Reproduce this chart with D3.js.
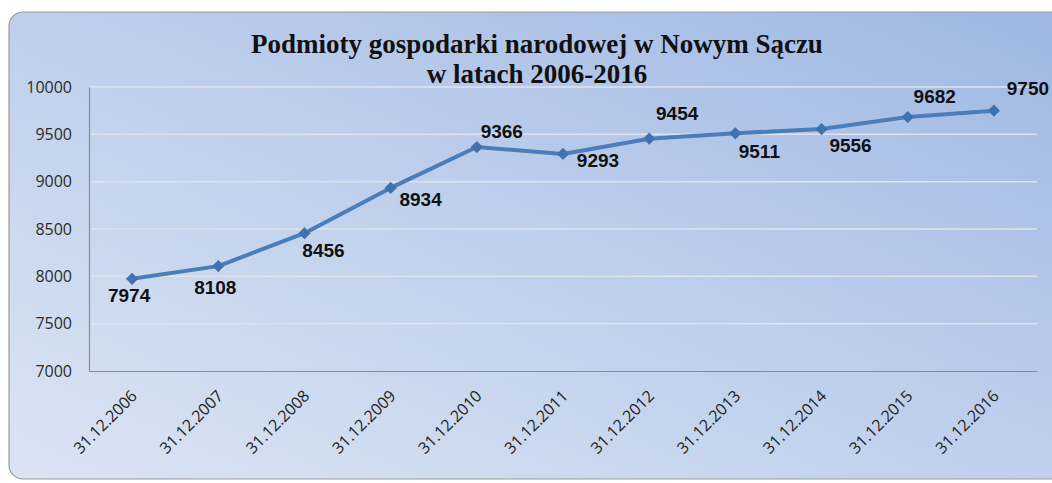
<!DOCTYPE html>
<html>
<head>
<meta charset="utf-8">
<script src="https://cdn.jsdelivr.net/npm/d3@7"></script>
<style>
  body { margin: 0; background: #fff; }
  svg { display: block; }
</style>
</head>
<body>
<div></div>
<script>
const width = 1052;
const height = 483;

// data
const categories = ['31.12.2006', '31.12.2007', '31.12.2008', '31.12.2009', '31.12.2010', '31.12.2011',
  '31.12.2012', '31.12.2013', '31.12.2014', '31.12.2015', '31.12.2016'];
const values = [7974, 8108, 8456, 8934, 9366, 9293, 9454, 9511, 9556, 9682, 9750];
const yTicks = [7000, 7500, 8000, 8500, 9000, 9500, 10000];
const titleLines = ['Podmioty gospodarki narodowej w Nowym Sączu', 'w latach 2006-2016'];

// label offsets from each point [dx, dy] (baseline)
const labelOffsets = [[-3, 23], [-3, 28], [19, 24], [30, 18], [25, -9], [35, 13],
  [28, -19], [24, 25], [29, 23], [27, -14], [34, -16]];

const margin = {top: 87, right: 15, bottom: 112, left: 89};

const svg = d3.select('div').append('svg').attr('width', width).attr('height', height);

const defs = svg.append('defs');
const grad = defs.append('linearGradient').attr('id', 'bg')
  .attr('x1', '0%').attr('y1', '100%').attr('x2', '100%').attr('y2', '0%');
grad.append('stop').attr('offset', '0%').attr('stop-color', '#dbe4f3');
grad.append('stop').attr('offset', '55%').attr('stop-color', '#bccdeb');
grad.append('stop').attr('offset', '100%').attr('stop-color', '#9db7e3');

svg.append('rect')
  .attr('x', 9).attr('y', 12)
  .attr('width', 1060).attr('height', 467)
  .attr('rx', 14)
  .attr('fill', 'url(#bg)')
  .attr('stroke', '#9a9a9a').attr('stroke-width', 1.2);

const x = d3.scaleBand().domain(categories)
  .range([margin.left, width - margin.right]);
const y = d3.scaleLinear().domain([7000, 10000])
  .range([height - margin.bottom, margin.top]);

const px = d => x(d) + x.bandwidth() / 2;

// gridlines
svg.append('g').selectAll('line').data(yTicks.filter(t => t > 7000)).enter().append('line')
  .attr('x1', margin.left).attr('x2', width - margin.right)
  .attr('y1', d => y(d)).attr('y2', d => y(d))
  .attr('stroke', '#dfe3ea').attr('stroke-width', 1.5);

// y axis
const yAxis = svg.append('g')
  .attr('transform', 'translate(' + margin.left + ',0)')
  .call(d3.axisLeft(y).tickValues(yTicks).tickFormat(d3.format('d')).tickSize(0).tickPadding(17));
yAxis.select('.domain').attr('stroke', '#8a8a8a').attr('stroke-width', 1.2);
yAxis.selectAll('text')
  .attr('font-family', '"Open Sans", sans-serif').attr('font-size', 16).attr('fill', '#2b2b2b');

// x axis
const xAxis = svg.append('g')
  .attr('transform', 'translate(0,' + (height - margin.bottom) + ')')
  .call(d3.axisBottom(x).tickSize(0));
xAxis.select('.domain').attr('stroke', '#8a8a8a').attr('stroke-width', 1.2);
xAxis.selectAll('text')
  .attr('font-family', '"Open Sans", sans-serif').attr('font-size', 16).attr('fill', '#222')
  .attr('text-anchor', 'end')
  .attr('dy', 0).attr('y', 0)
  .attr('transform', 'translate(6,26) rotate(-45)');

// line
const line = d3.line().x((d, i) => px(categories[i])).y(d => y(d));
svg.append('path').datum(values)
  .attr('d', line)
  .attr('fill', 'none')
  .attr('stroke', '#4a7ebb')
  .attr('stroke-width', 4)
  .attr('stroke-linejoin', 'round');

// markers
const diamond = d3.symbol().type(d3.symbolSquare).size(75);
svg.append('g').selectAll('path').data(values).enter().append('path')
  .attr('d', diamond)
  .attr('transform', (d, i) => 'translate(' + px(categories[i]) + ',' + y(d) + ') rotate(45)')
  .attr('fill', '#3f72ae');

// labels
svg.append('g').selectAll('text').data(values).enter().append('text')
  .attr('x', (d, i) => px(categories[i]) + labelOffsets[i][0])
  .attr('y', (d, i) => y(d) + labelOffsets[i][1])
  .attr('text-anchor', 'middle')
  .attr('font-family', '"Liberation Sans", sans-serif')
  .attr('font-weight', 'bold')
  .attr('font-size', 19)
  .attr('fill', '#111')
  .text(d => d);

// title
svg.append('g').selectAll('text').data(titleLines).enter().append('text')
  .attr('x', 537)
  .attr('y', (d, i) => 53 + i * 30)
  .attr('text-anchor', 'middle')
  .attr('font-family', '"Liberation Serif", serif')
  .attr('font-weight', 'bold')
  .attr('font-size', 27)
  .attr('fill', '#111')
  .text(d => d);
</script>
</body>
</html>
